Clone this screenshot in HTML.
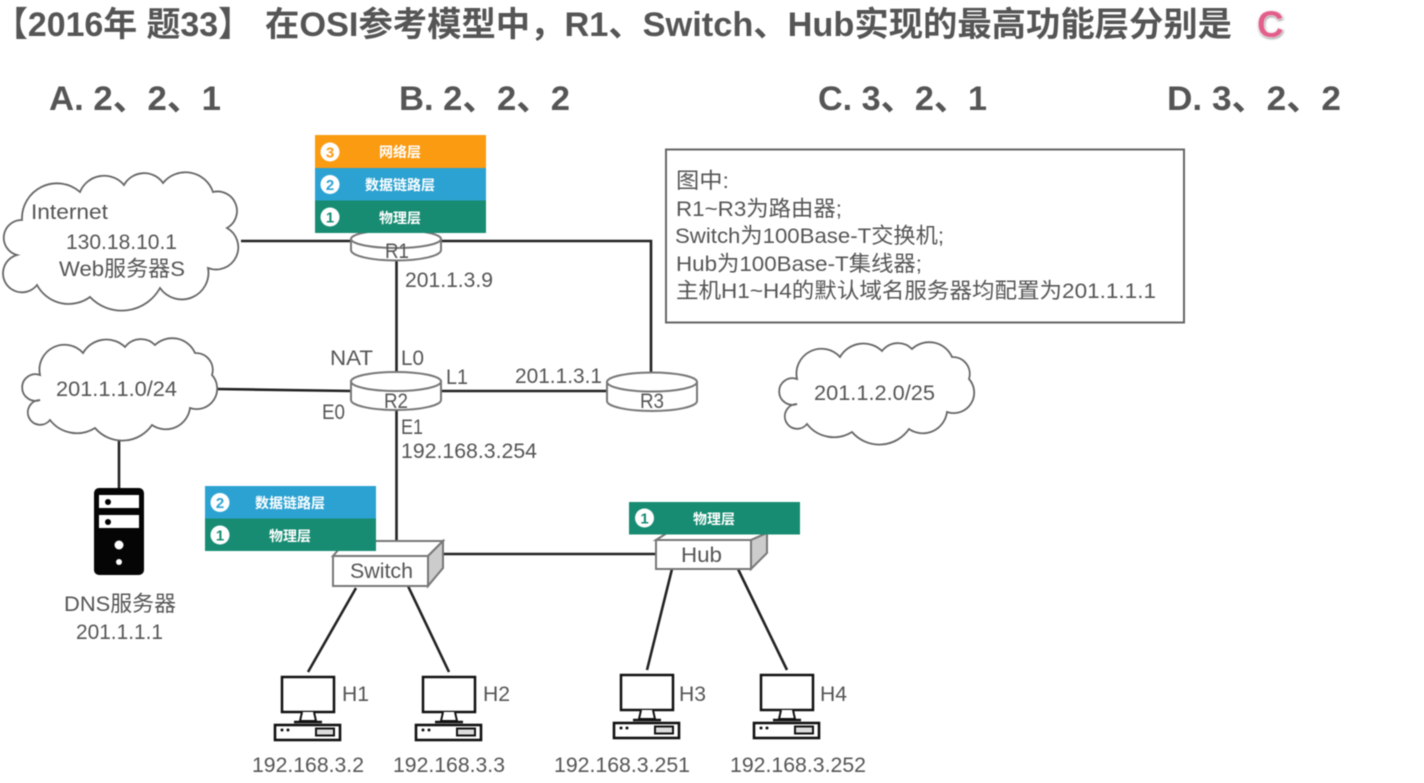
<!DOCTYPE html>
<html><head><meta charset="utf-8"><style>
html,body{margin:0;padding:0;background:#fff;width:1424px;height:783px;overflow:hidden}
svg{display:block;filter:blur(0.4px)}
.t{font-family:"Liberation Sans","Noto Sans CJK SC",sans-serif;font-weight:700;fill:#555}
.d{font-family:"Liberation Sans","Noto Sans CJK SC",sans-serif;font-size:21.500px;fill:#555}
.l{font-family:"Noto Sans CJK SC","Liberation Sans",sans-serif;font-size:14px;font-weight:700;fill:#fff;text-anchor:middle}
.n{font-family:"Liberation Sans",sans-serif;font-size:15px;font-weight:700;text-anchor:middle}
.w{fill:none;stroke:#222;stroke-width:2.6}
.c{fill:#fff;stroke:#666;stroke-width:1.8}
.b{fill:#fff;stroke:#777;stroke-width:2}
</style></head><body>
<svg width="1424" height="783" viewBox="0 0 1424 783" xmlns="http://www.w3.org/2000/svg">
<defs>
<filter id="s" x="-30%" y="-30%" width="160%" height="160%"><feDropShadow dx="0.5" dy="1" stdDeviation="1" flood-color="#888"/></filter>
<g id="pc">
<rect x="2" y="2" width="52" height="35" fill="#fff" stroke="#111" stroke-width="2.500"/>
<path d="M22 37 L20 46 H36 L34 37" fill="#fff" stroke="#111" stroke-width="2"/>
<path d="M14 47 H42" stroke="#111" stroke-width="2.400"/>
<rect x="-5" y="50" width="65" height="15" fill="#fff" stroke="#111" stroke-width="2.600"/>
<circle cx="2" cy="55" r="1.500" fill="#111"/><circle cx="8" cy="55" r="1.500" fill="#111"/>
<rect x="36" y="53.500" width="18" height="7" fill="#ddd" stroke="#111" stroke-width="2"/>
</g>
</defs>

<text class="t" x="-6" y="36" font-size="34" textLength="258" lengthAdjust="spacingAndGlyphs">【2016年 题33】</text>
<text class="t" x="265" y="36" font-size="34" textLength="967" lengthAdjust="spacingAndGlyphs">在OSI参考模型中，R1、Switch、Hub实现的最高功能层分别是</text>
<text x="1257" y="37" font-family="'Liberation Sans',sans-serif" font-weight="700" font-size="37" fill="#e25f8b" stroke="#fff" stroke-width="1" paint-order="stroke" filter="url(#s)">C</text>

<text class="t" x="49" y="110" font-size="34" textLength="172" lengthAdjust="spacingAndGlyphs">A. 2、2、1</text>
<text class="t" x="399" y="110" font-size="34" textLength="171" lengthAdjust="spacingAndGlyphs">B. 2、2、2</text>
<text class="t" x="818" y="110" font-size="34" textLength="169" lengthAdjust="spacingAndGlyphs">C. 3、2、1</text>
<text class="t" x="1167" y="110" font-size="34" textLength="174" lengthAdjust="spacingAndGlyphs">D. 3、2、2</text>

<!-- links -->
<path class="w" d="M241 241 H351 M441 241 H651 V375 M396.500 261 V372 M396.500 410 V541 M217 389 L351 391 M441 391 H606 M119 440 V490 M443 554 H655 M356 588 L308 672 M408 586 L449 672 M672 569 L647 670 M738 569 L787 670"/>

<!-- clouds -->
<path class="c" d="M22 220 A35 35 0 0 1 80 192 A26 26 0 0 1 124 185 A23 23 0 0 1 163 183 A29 29 0 0 1 213 192 A19.500 19.500 0 0 1 227 228 A22.200 22.200 0 0 1 208 268 A26.600 26.600 0 0 1 160 288 A43.700 43.700 0 0 1 90 297 A36 36 0 0 1 37 285 A19 19 0 1 1 17 255 A17.800 17.800 0 0 1 22 220 Z"/>
<path id="cl" class="c" d="M40 375 A25 25 0 0 1 83 353 A27 27 0 0 1 125 347 A20 20 0 0 1 155 345 A25 25 0 0 1 195 353 A17 17 0 0 1 212 375 A20.500 20.500 0 0 1 190 408 A24.400 24.400 0 0 1 152 425 A36 36 0 0 1 95 428 A34 34 0 0 1 50 420 A12.400 12.400 0 1 1 40 400 A13.300 13.300 0 1 1 40 375 Z"/>
<use href="#cl" transform="translate(757,4)"/>

<!-- routers -->
<path class="b" d="M351 241 V250 A45 10.500 0 0 0 441 250 V241 Z"/>
<ellipse class="b" cx="396" cy="239" rx="45" ry="9"/>
<path class="b" d="M351 381 V400 A45 10 0 0 0 441 400 V381 Z"/>
<ellipse class="b" cx="396" cy="381.500" rx="45" ry="9.500"/>
<path class="b" d="M607 382 V401 A45 10 0 0 0 697 401 V382 Z"/>
<ellipse class="b" cx="652" cy="382" rx="45" ry="9.500"/>

<!-- switch & hub -->
<path class="b" d="M333 556 L346 541 H443 L428 556 Z"/>
<path d="M428 556 L443 541 V568 L428 586 Z" fill="#ccc" stroke="#777" stroke-width="2"/>
<rect class="b" x="333" y="556" width="95" height="30"/>
<path class="b" d="M656 540 L667 533 H767 L751 540 Z"/>
<path d="M751 540 L767 533 V553 L751 569 Z" fill="#ccc" stroke="#777" stroke-width="2"/>
<rect class="b" x="656" y="540" width="95" height="29"/>

<!-- layer panels -->
<rect x="315" y="135" width="171" height="33" fill="#fb9b12"/>
<rect x="315" y="168" width="171" height="33" fill="#2ca2d2"/>
<rect x="315" y="200.500" width="171" height="32.500" fill="#178c72"/>
<circle cx="330" cy="152" r="9.500" fill="#fff"/><text class="n" x="330" y="157.500" fill="#fb9b12">3</text>
<circle cx="330" cy="184.500" r="9.500" fill="#fff"/><text class="n" x="330" y="190" fill="#2ca2d2">2</text>
<circle cx="330" cy="217" r="9.500" fill="#fff"/><text class="n" x="330" y="222.500" fill="#178c72">1</text>
<text class="l" x="400" y="157">网络层</text>
<text class="l" x="400" y="190">数据链路层</text>
<text class="l" x="400" y="223">物理层</text>

<rect x="205" y="486" width="171" height="33" fill="#2ca2d2"/>
<rect x="205" y="518.500" width="171" height="32.500" fill="#178c72"/>
<circle cx="220" cy="502.500" r="9.500" fill="#fff"/><text class="n" x="220" y="508" fill="#2ca2d2">2</text>
<circle cx="220" cy="535" r="9.500" fill="#fff"/><text class="n" x="220" y="540.500" fill="#178c72">1</text>
<text class="l" x="290" y="508">数据链路层</text>
<text class="l" x="290" y="541">物理层</text>

<rect x="629" y="502" width="171" height="32.500" fill="#178c72"/>
<circle cx="644.500" cy="518" r="9.500" fill="#fff"/><text class="n" x="644.500" y="523.500" fill="#178c72">1</text>
<text class="l" x="714" y="524">物理层</text>

<!-- note -->
<rect x="666" y="149.500" width="518" height="173" fill="none" stroke="#666" stroke-width="2"/>
<g class="d">
<text x="676" y="188" textLength="53" lengthAdjust="spacingAndGlyphs">图中:</text>
<text x="676" y="216" textLength="166" lengthAdjust="spacingAndGlyphs">R1~R3为路由器;</text>
<text x="675" y="243" textLength="269" lengthAdjust="spacingAndGlyphs">Switch为100Base-T交换机;</text>
<text x="676" y="271" textLength="246" lengthAdjust="spacingAndGlyphs">Hub为100Base-T集线器;</text>
<text x="676" y="298" textLength="480" lengthAdjust="spacingAndGlyphs">主机H1~H4的默认域名服务器均配置为201.1.1.1</text>
</g>

<!-- labels -->
<g class="d">
<text x="31" y="219" textLength="77" lengthAdjust="spacingAndGlyphs">Internet</text>
<text x="66" y="249" textLength="111" lengthAdjust="spacingAndGlyphs">130.18.10.1</text>
<text x="59" y="276" textLength="126" lengthAdjust="spacingAndGlyphs">Web服务器S</text>
<text x="385" y="258" textLength="24" lengthAdjust="spacingAndGlyphs">R1</text>
<text x="405" y="287" textLength="88" lengthAdjust="spacingAndGlyphs">201.1.3.9</text>
<text x="330" y="365" textLength="43" lengthAdjust="spacingAndGlyphs">NAT</text>
<text x="401" y="365" textLength="23" lengthAdjust="spacingAndGlyphs">L0</text>
<text x="446" y="384" textLength="22" lengthAdjust="spacingAndGlyphs">L1</text>
<text x="515" y="383" textLength="87" lengthAdjust="spacingAndGlyphs">201.1.3.1</text>
<text x="384" y="408" textLength="24" lengthAdjust="spacingAndGlyphs">R2</text>
<text x="640" y="408" textLength="24" lengthAdjust="spacingAndGlyphs">R3</text>
<text x="322" y="419" textLength="23" lengthAdjust="spacingAndGlyphs">E0</text>
<text x="401" y="434" textLength="22" lengthAdjust="spacingAndGlyphs">E1</text>
<text x="401" y="458" textLength="136" lengthAdjust="spacingAndGlyphs">192.168.3.254</text>
<text x="56" y="396" textLength="121" lengthAdjust="spacingAndGlyphs">201.1.1.0/24</text>
<text x="814" y="400" textLength="121" lengthAdjust="spacingAndGlyphs">201.1.2.0/25</text>
<text x="64" y="611" textLength="112" lengthAdjust="spacingAndGlyphs">DNS服务器</text>
<text x="76" y="639" textLength="87" lengthAdjust="spacingAndGlyphs">201.1.1.1</text>
<text x="350" y="578" textLength="63" lengthAdjust="spacingAndGlyphs">Switch</text>
<text x="681" y="562" textLength="41" lengthAdjust="spacingAndGlyphs">Hub</text>
<text x="342" y="701" textLength="27" lengthAdjust="spacingAndGlyphs">H1</text>
<text x="483" y="701" textLength="27" lengthAdjust="spacingAndGlyphs">H2</text>
<text x="679" y="701" textLength="27" lengthAdjust="spacingAndGlyphs">H3</text>
<text x="820" y="701" textLength="27" lengthAdjust="spacingAndGlyphs">H4</text>
<text x="252" y="772" textLength="112" lengthAdjust="spacingAndGlyphs">192.168.3.2</text>
<text x="393" y="772" textLength="112" lengthAdjust="spacingAndGlyphs">192.168.3.3</text>
<text x="554" y="772" textLength="136" lengthAdjust="spacingAndGlyphs">192.168.3.251</text>
<text x="730" y="772" textLength="136" lengthAdjust="spacingAndGlyphs">192.168.3.252</text>
</g>

<!-- server -->
<rect x="94" y="488" width="50" height="87" rx="5" fill="#050505"/>
<rect x="99" y="495" width="40" height="13" fill="#fff"/>
<rect x="99" y="515" width="40" height="13" fill="#fff"/>
<circle cx="108" cy="502" r="3" fill="#000"/><circle cx="108" cy="522" r="3" fill="#000"/>
<circle cx="119" cy="545" r="4.500" fill="#fff"/><circle cx="119" cy="562" r="3" fill="#fff"/>

<!-- PCs -->
<use href="#pc" x="280" y="675"/>
<use href="#pc" x="421" y="675"/>
<use href="#pc" x="619" y="673"/>
<use href="#pc" x="759" y="673"/>
</svg>
</body></html>
